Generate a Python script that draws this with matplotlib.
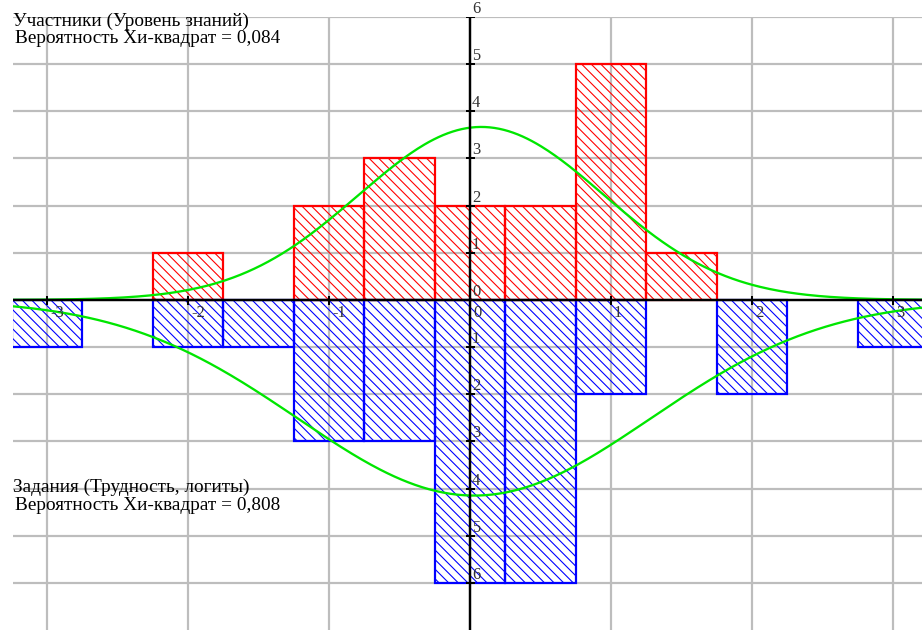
import numpy as np
import matplotlib
matplotlib.use("Agg")
import matplotlib.pyplot as plt
from matplotlib.transforms import offset_copy

# ---- data ----
bin_centers = [-3.0, -2.5, -2.0, -1.5, -1.0, -0.5, 0.0, 0.5, 1.0, 1.5, 2.0, 2.5, 3.0]
person_counts = [0, 0, 1, 0, 2, 3, 2, 2, 5, 1, 0, 0, 0]
item_counts = [1, 0, 1, 1, 3, 3, 6, 6, 2, 0, 2, 0, 1]
bin_width = 0.5

# fitted normal curves (mean, sd) for each distribution
person_mean, person_sd = 0.08, 0.87
item_mean, item_sd = 0.03, 1.25

x_ticks = [-3, -2, -1, 0, 1, 2, 3]
y_ticks = [-6, -5, -4, -3, -2, -1, 0, 1, 2, 3, 4, 5, 6]

title_top = "Участники (Уровень знаний)"
chi_top = "Вероятность Хи-квадрат = 0,084"
title_bottom = "Задания (Трудность, логиты)"
chi_bottom = "Вероятность Хи-квадрат = 0,808"

DPI = 115
W, H = 922, 630
def pt(px):
    return px * 72.0 / DPI

plt.rcParams['hatch.linewidth'] = pt(1.1)
FONT = "Liberation Serif"
HATCH = "\\" * 4

fig = plt.figure(figsize=(W / DPI, H / DPI), dpi=DPI)
ax = fig.add_axes([13 / W, 0, (W - 13) / W, (H - 17) / H])
ax.set_xlim(-3.241, 3.206)
ax.set_ylim(-7.0, 6.0)
for s in ax.spines.values():
    s.set_visible(False)
ax.set_xticks([])
ax.set_yticks([])

# grid
for xv in x_ticks:
    ax.axvline(xv, color="#bdbdbd", lw=pt(2.2), zorder=0)
for yv in y_ticks:
    ax.axhline(yv, color="#bdbdbd", lw=pt(2.2), zorder=0)

# bars
pc = [(c, v) for c, v in zip(bin_centers, person_counts) if v > 0]
ic = [(c, v) for c, v in zip(bin_centers, item_counts) if v > 0]
ax.bar([c for c, _ in pc], [v for _, v in pc], width=bin_width, facecolor="none",
       edgecolor="#ff0000", hatch=HATCH, lw=pt(2.2), zorder=2)
ax.bar([c for c, _ in ic], [-v for _, v in ic], width=bin_width, facecolor="none",
       edgecolor="#0000ff", hatch=HATCH, lw=pt(2.2), zorder=2)

# fitted curves
xs = np.linspace(-3.3, 3.3, 400)
def normal_curve(mu, sd, n):
    return n * bin_width * np.exp(-0.5 * ((xs - mu) / sd) ** 2) / (sd * np.sqrt(2 * np.pi))
ax.plot(xs, normal_curve(person_mean, person_sd, sum(person_counts)), color="#00e600", lw=pt(2.3), zorder=3)
ax.plot(xs, -normal_curve(item_mean, item_sd, sum(item_counts)), color="#00e600", lw=pt(2.3), zorder=3)

# axes lines
ax.axhline(0, color="black", lw=pt(2.4), zorder=4)
ax.axvline(0, color="black", lw=pt(2.4), zorder=4)
ax.plot(x_ticks, [0] * len(x_ticks), ls="none", marker="|", ms=pt(9), mew=pt(2), color="black", zorder=5)
ax.plot([0] * len(y_ticks), y_ticks, ls="none", marker="_", ms=pt(9), mew=pt(2), color="black", zorder=5)

# tick labels
TFS = pt(16.5)
tx = offset_copy(ax.transData, fig=fig, x=3, y=-5, units="dots")
for xv in x_ticks:
    ax.text(xv, 0, str(xv), transform=tx, ha="left", va="top",
            fontsize=TFS, family=FONT, color="#333333", zorder=6)
ty = offset_copy(ax.transData, fig=fig, x=2, y=0, units="dots")
for yv in y_ticks:
    if yv == 0:
        continue
    ax.text(0, yv, str(abs(yv)), transform=ty, ha="left", va="bottom",
            fontsize=TFS, family=FONT, color="#333333", zorder=6)
ax.text(0, 0, "0", transform=ty, ha="left", va="bottom", fontsize=TFS, family=FONT, color="#333333", zorder=6)

# annotations
AFS = pt(19.3)
def ftext(px, py, s):
    fig.text(px / W, 1 - py / H, s, ha="left", va="baseline", fontsize=AFS, family=FONT, color="black")
ftext(13, 26, title_top)
ftext(15, 43, chi_top)
ftext(13, 492, title_bottom)
ftext(15, 510, chi_bottom)

fig.savefig("out.png", dpi=DPI)
